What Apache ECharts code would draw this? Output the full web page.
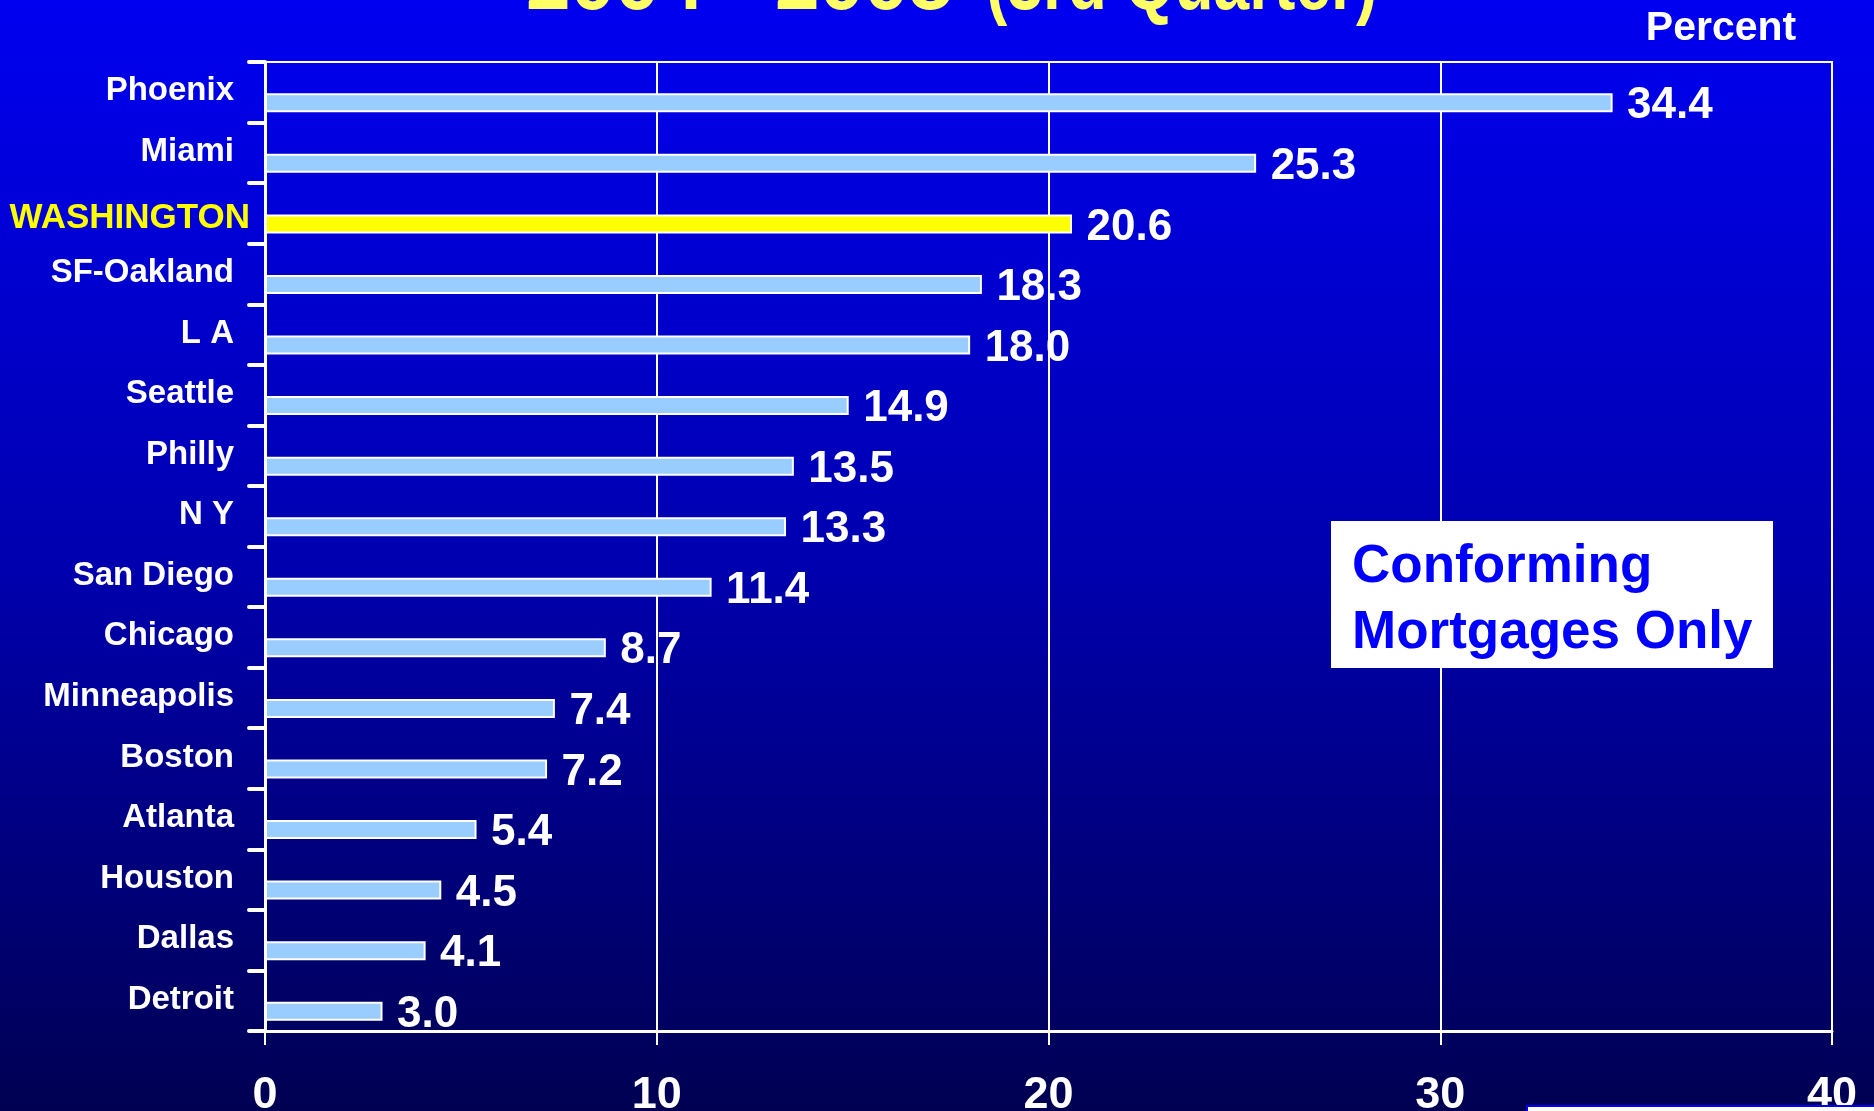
<!DOCTYPE html>
<html>
<head>
<meta charset="utf-8">
<script src="https://cdn.jsdelivr.net/npm/echarts@6/dist/echarts.min.js"></script>
<style>
  html, body { margin: 0; padding: 0; background: #000050; }
  #chart { width: 1874px; height: 1111px; }
</style>
</head>
<body>
<div id="chart"></div>
<script>
// Metro areas, top to bottom
const cities = ['Phoenix', 'Miami', 'WASHINGTON', 'SF-Oakland', 'L A', 'Seattle', 'Philly', 'N Y',
  'San Diego', 'Chicago', 'Minneapolis', 'Boston', 'Atlanta', 'Houston', 'Dallas', 'Detroit'];
// Percent change per metro area
const changePct = [34.4, 25.3, 20.6, 18.3, 18.0, 14.9, 13.5, 13.3, 11.4, 8.7, 7.4, 7.2, 5.4, 4.5, 4.1, 3.0];
const highlightCity = 'WASHINGTON';
// Value axis ticks
const xTickMin = 0, xTickMax = 40, xTickStep = 10;
// Texts
const titleMain = '2004 - 2005';
const titleSub = '(3rd Quarter)';
const unitText = 'Percent';
const noteLines = ['Conforming', 'Mortgages Only'];

const FONT = '"Liberation Sans", Arial, Helvetica, sans-serif';

const chart = echarts.init(document.getElementById('chart'), null, { renderer: 'canvas' });

const barData = changePct.map((v, i) => cities[i] === highlightCity
  ? { value: v, itemStyle: { color: '#ffff00' } }
  : v);
const labelData = changePct.map((v, i) => [v, cities[i]]);

chart.setOption({
  animation: false,
  backgroundColor: {
    type: 'linear', x: 0, y: 0, x2: 0, y2: 1,
    colorStops: [
      { offset: 0, color: '#0000f0' },
      { offset: 0.5, color: '#0000b0' },
      { offset: 1, color: '#000052' }
    ]
  },
  grid: {
    left: 265, right: 42, top: 62, bottom: 80,
    show: true, borderColor: '#ffffff', borderWidth: 2,
    backgroundColor: 'transparent',
    containLabel: false,
    outerBoundsMode: 'none'
  },
  xAxis: {
    type: 'value',
    min: xTickMin, max: xTickMax, interval: xTickStep,
    z: 1,
    axisLine: { show: true, lineStyle: { color: '#ffffff', width: 3 } },
    axisTick: { show: true, length: 14, lineStyle: { color: '#ffffff', width: 2 } },
    axisLabel: { color: '#ffffff', fontSize: 45, fontWeight: 'bold', fontFamily: FONT, margin: 42 },
    splitLine: { show: true, lineStyle: { color: '#ffffff', width: 2 } }
  },
  yAxis: {
    type: 'category',
    data: cities,
    inverse: true,
    z: 1,
    axisLine: { show: true, lineStyle: { color: '#ffffff', width: 3 } },
    axisTick: { show: true, length: 16, lineStyle: { color: '#ffffff', width: 4, cap: 'round' } },
    splitLine: { show: false },
    axisLabel: {
      margin: 15,
      formatter: c => c === highlightCity ? '{w|' + c + '}' : '{n|' + c + '}',
      rich: {
        n: { color: '#ffffff', fontSize: 33, fontWeight: 'bold', fontFamily: FONT, padding: [0, 16, 2, 0] },
        w: { color: '#ffff00', fontSize: 35, fontWeight: 'bold', fontFamily: FONT, padding: [10, 0, 0, 0] }
      }
    }
  },
  series: [
    {
      // empty spacer column: pushes the real bars toward the lower part of each row
      name: 'spacer',
      type: 'bar',
      data: [],
      barWidth: 10.5,
      silent: true
    },
    {
      name: 'change',
      type: 'bar',
      data: barData,
      barWidth: 19,
      barGap: '100%',
      z: 2,
      itemStyle: { color: '#99ccff', borderColor: '#ffffff', borderWidth: 2 }
    },
    {
      // value labels, placed under the grid lines
      name: 'values',
      type: 'scatter',
      data: labelData,
      symbolSize: 1,
      z: 0,
      silent: true,
      itemStyle: { color: 'transparent', opacity: 1 },
      label: {
        show: true,
        position: 'right',
        distance: 14,
        offset: [0, 14],
        formatter: p => p.value[0].toFixed(1),
        color: '#ffffff',
        opacity: 1,
        fontSize: 44,
        fontWeight: 'bold',
        fontFamily: FONT
      }
    }
  ],
  graphic: [
    {
      type: 'text', x: 526, y: -13, z: 100, silent: true,
      style: { text: titleMain, fill: '#ffff66', font: 'bold 80px ' + FONT, align: 'left', verticalAlign: 'middle' }
    },
    {
      // condensed sub-title
      type: 'text', x: 986, y: -13, scaleX: 0.8, z: 100, silent: true,
      style: { text: titleSub, fill: '#ffff66', font: 'bold 80px ' + FONT, align: 'left', verticalAlign: 'middle' }
    },
    {
      type: 'text', x: 1721, y: 29, z: 100, silent: true,
      style: { text: unitText, fill: '#ffffff', font: 'bold 41px ' + FONT, align: 'center', verticalAlign: 'middle' }
    },
    {
      type: 'rect', z: 100, silent: true,
      shape: { x: 1331, y: 521, width: 442, height: 147 },
      style: { fill: '#ffffff' }
    },
    {
      type: 'text', x: 1352, y: 534, z: 101, silent: true,
      style: {
        text: noteLines.join('\n'), fill: '#0000ff', font: 'bold 53px ' + FONT,
        lineHeight: 66, align: 'left', verticalAlign: 'top'
      }
    },
    {
      type: 'rect', z: 100, silent: true,
      shape: { x: 1527, y: 1106, width: 360, height: 30 },
      style: { fill: '#ffffff', stroke: '#0000ff', lineWidth: 2 }
    }
  ]
});
</script>
</body>
</html>
